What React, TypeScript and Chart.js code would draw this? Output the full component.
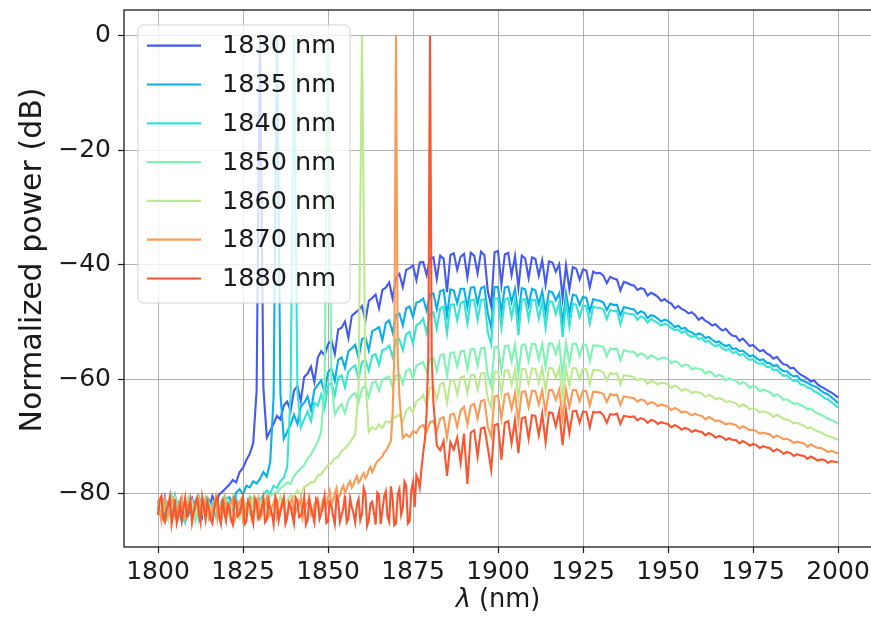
import React, { useEffect, useRef } from "react";
import { Chart, registerables } from "chart.js";

Chart.register(...registerables);

// Wavelength sampling grid (nm), 1 nm steps from 1800 to 2000
const wavelengthStart = 1800;
const wavelengthCount = 201;
const wavelengths: number[] = Array.from({ length: wavelengthCount }, (_, i) => wavelengthStart + i);

const seriesLabels = ["1830 nm", "1835 nm", "1840 nm", "1850 nm", "1860 nm", "1870 nm", "1880 nm"];
const seriesColors = ["#4458f2", "#0aaeea", "#36e4d4", "#7ef3b4", "#bce98f", "#fb9a55", "#fb5530"];

const xTicks = [1800, 1825, 1850, 1875, 1900, 1925, 1950, 1975, 2000];
const xTickLabels = ["1800", "1825", "1850", "1875", "1900", "1925", "1950", "1975", "2000"];
const yTicks = [-80, -60, -40, -20, 0];
const yTickLabels = ["\u221280", "\u221260", "\u221240", "\u221220", "0"];

// Normalized power (dB), one value per wavelength (1800..2000 nm)
const p1830 = [
  -81.2, -83.5, -80.6, -84.1, -82.3, -80.9, -83.8, -81.5, -84.6, -82.0,
  -80.8, -83.2, -81.9, -84.0, -81.0, -82.6, -80.4, -81.8, -80.1, -79.6,
  -79.0, -78.4, -77.6, -78.0, -76.2, -75.5, -74.1, -73.0, -71.2, -62.0,
  0, -61.5, -70.2, -69.0, -67.8, -66.4, -67.0, -64.6, -63.9, -65.5,
  -62.0, -61.2, -63.8, -59.6, -59.0, -57.8, -60.5, -56.2, -55.1, -55.8,
  -53.9, -53.2, -55.6, -51.3, -51.0, -49.9, -52.8, -48.9, -48.4, -47.9,
  -47.2, -49.8, -46.3, -45.8, -45.2, -47.6, -44.4, -44.0, -43.1, -45.9,
  -42.3, -41.6, -43.9, -40.9, -40.6, -40.1, -42.7, -39.6, -39.5, -41.8,
  -39.0, -38.7, -42.5, -38.4, -38.9, -44.8, -38.3, -38.0, -40.9, -38.6,
  -38.1, -42.2, -37.9, -38.4, -41.5, -37.7, -38.3, -44.6, -47.2, -37.8,
  -37.6, -43.5, -38.2, -37.9, -41.8, -38.5, -44.0, -38.4, -38.9, -42.3,
  -38.7, -39.0, -41.9, -39.2, -43.5, -39.4, -39.6, -41.2, -39.9, -45.8,
  -40.1, -44.3, -40.4, -40.7, -42.6, -40.8, -41.0, -43.9, -41.2, -41.5,
  -41.4, -41.9, -43.2, -42.1, -42.4, -42.6, -44.5, -43.0, -43.2, -43.5,
  -43.6, -44.4, -44.1, -44.3, -45.4, -44.9, -45.2, -45.6, -46.3, -46.0,
  -46.5, -46.8, -47.6, -47.2, -47.7, -48.0, -48.5, -48.3, -48.8, -49.6,
  -49.2, -49.8, -50.1, -50.6, -50.4, -51.0, -51.5, -51.2, -51.9, -52.4,
  -52.5, -53.3, -52.9, -53.5, -54.2, -54.0, -54.6, -55.1, -54.9, -55.5,
  -55.8, -56.4, -56.1, -56.8, -57.4, -57.5, -58.1, -58.0, -58.7, -59.2,
  -59.5, -59.9, -60.4, -60.2, -60.9, -61.3, -61.6, -62.0, -62.3, -62.7,
  -63.2,
];

const p1835 = [
  -82.8, -80.7, -84.3, -81.6, -83.1, -80.3, -82.9, -84.8, -81.3, -83.6,
  -81.7, -84.2, -80.5, -82.4, -83.7, -81.1, -82.2, -80.8, -83.0, -81.4,
  -81.0, -80.6, -81.9, -79.8, -79.2, -80.1, -78.6, -78.9, -77.8, -78.2,
  -77.4, -76.2, -77.0, -74.5, -63.0, 0, -62.5, -70.4, -69.2, -67.9,
  -66.2, -67.8, -64.8, -64.1, -63.0, -65.4, -61.8, -61.0, -60.2, -62.4,
  -58.8, -58.1, -60.3, -56.6, -56.2, -58.0, -55.1, -54.6, -54.0, -56.3,
  -53.0, -52.7, -55.0, -51.6, -51.3, -50.9, -53.2, -50.2, -49.7, -51.8,
  -48.8, -48.5, -50.6, -47.6, -47.3, -49.1, -46.6, -46.4, -45.9, -48.0,
  -45.2, -45.0, -47.8, -44.6, -44.4, -48.9, -44.3, -44.5, -46.7, -44.2,
  -44.2, -47.4, -44.0, -43.9, -46.8, -44.1, -43.8, -48.5, -51.0, -43.9,
  -43.9, -48.2, -44.0, -43.8, -46.5, -44.2, -49.0, -44.1, -44.3, -47.1,
  -44.2, -44.5, -46.9, -44.6, -48.3, -44.6, -44.8, -46.2, -45.0, -50.3,
  -45.0, -48.5, -45.2, -45.4, -47.0, -45.6, -45.8, -48.1, -46.0, -46.2,
  -46.3, -46.6, -47.9, -46.8, -47.0, -47.0, -48.8, -47.4, -47.5, -47.7,
  -47.8, -48.6, -48.1, -48.4, -49.3, -48.8, -49.0, -49.4, -49.9, -49.6,
  -49.8, -50.3, -50.9, -50.6, -51.2, -51.0, -51.6, -51.8, -52.3, -52.0,
  -52.2, -52.8, -52.6, -53.1, -53.5, -53.4, -53.9, -54.2, -54.0, -54.7,
  -54.6, -55.1, -55.0, -55.5, -56.0, -55.8, -56.3, -56.7, -56.5, -57.1,
  -57.2, -57.7, -57.5, -58.2, -58.6, -58.6, -59.2, -59.5, -59.4, -60.1,
  -60.3, -60.6, -61.0, -61.2, -61.5, -62.0, -62.4, -62.6, -63.1, -63.6,
  -64.2,
];

const p1840 = [
  -81.9, -84.4, -81.0, -82.7, -80.4, -83.9, -81.5, -82.6, -84.9, -80.8,
  -83.3, -81.2, -84.5, -82.1, -80.6, -83.4, -81.8, -84.0, -82.5, -80.9,
  -83.6, -81.4, -82.8, -80.7, -83.1, -81.6, -82.0, -80.5, -81.3, -80.8,
  -81.0, -80.2, -79.4, -80.0, -78.6, -79.0, -77.8, -77.2, -75.4, -62.5,
  0, -62.0, -68.4, -67.0, -65.6, -67.3, -64.1, -64.6, -62.6, -65.0,
  -61.2, -60.6, -62.8, -59.7, -59.3, -61.4, -58.6, -58.0, -57.6, -60.0,
  -57.0, -56.6, -58.5, -55.9, -55.6, -57.5, -54.9, -54.7, -54.1, -56.1,
  -53.2, -53.0, -54.9, -52.1, -51.7, -53.8, -50.6, -50.2, -49.4, -51.9,
  -48.6, -48.3, -51.2, -47.6, -47.3, -52.0, -47.0, -46.9, -49.7, -46.7,
  -46.4, -50.3, -46.2, -46.1, -49.6, -46.2, -46.0, -51.8, -53.9, -45.9,
  -45.9, -51.0, -46.1, -45.8, -49.2, -46.0, -52.3, -46.1, -46.0, -49.5,
  -46.1, -46.2, -49.4, -46.3, -51.0, -46.4, -46.5, -48.6, -46.6, -52.6,
  -46.7, -50.8, -46.8, -47.0, -49.2, -47.1, -47.2, -50.3, -47.3, -47.5,
  -47.5, -47.8, -49.5, -47.9, -48.1, -48.0, -50.4, -48.3, -48.5, -48.6,
  -48.7, -49.6, -49.0, -49.3, -50.1, -49.5, -49.8, -50.2, -50.6, -50.3,
  -50.5, -51.1, -51.4, -51.3, -51.9, -51.6, -52.3, -52.6, -52.4, -53.0,
  -52.8, -53.5, -53.3, -53.9, -54.2, -54.0, -54.6, -54.9, -54.7, -55.4,
  -55.2, -55.8, -55.6, -56.2, -56.6, -56.5, -57.1, -57.3, -57.2, -57.9,
  -57.8, -58.4, -58.3, -58.9, -59.4, -59.3, -59.9, -60.3, -60.2, -60.9,
  -61.0, -61.4, -61.6, -62.1, -62.4, -62.8, -63.3, -63.5, -64.0, -64.4,
  -65.0,
];

const p1850 = [
  -83.4, -81.1, -82.9, -84.6, -80.7, -82.2, -84.2, -81.3, -83.0, -80.5,
  -82.7, -84.8, -81.6, -83.2, -80.9, -82.0, -84.3, -81.5, -83.5, -82.1,
  -80.6, -83.8, -81.9, -82.5, -84.1, -80.8, -82.3, -83.6, -81.2, -82.4,
  -81.4, -80.9, -82.0, -80.3, -80.0, -79.8, -79.1, -78.6, -78.0, -78.3,
  -76.9, -76.2, -75.6, -75.0, -73.8, -73.2, -72.0, -70.9, -69.2, -61.0,
  0, -60.5, -66.2, -65.1, -64.3, -65.9, -63.6, -62.8, -62.4, -64.0,
  -61.6, -61.2, -63.1, -60.6, -60.4, -62.0, -60.0, -59.8, -59.5, -61.4,
  -59.4, -59.1, -60.8, -58.6, -58.2, -59.9, -57.6, -57.3, -57.0, -58.7,
  -56.5, -56.2, -58.6, -55.8, -55.6, -59.4, -55.4, -55.3, -57.8, -55.1,
  -55.0, -58.2, -54.8, -54.7, -57.6, -54.6, -54.5, -59.3, -61.2, -54.4,
  -54.3, -58.5, -54.2, -54.1, -56.9, -54.0, -59.1, -54.0, -53.9, -56.8,
  -53.8, -53.9, -56.5, -53.8, -57.8, -53.7, -53.8, -55.6, -53.7, -59.4,
  -53.7, -57.2, -53.8, -53.8, -55.9, -53.9, -54.0, -56.8, -54.1, -54.1,
  -54.2, -54.4, -56.0, -54.6, -54.7, -54.7, -56.7, -54.9, -55.1, -55.2,
  -55.2, -55.9, -55.5, -55.7, -56.4, -55.8, -56.1, -56.6, -56.3, -56.2,
  -56.5, -57.2, -56.8, -57.1, -57.8, -57.4, -57.6, -58.3, -58.0, -58.2,
  -58.3, -59.0, -58.6, -58.9, -59.6, -59.2, -59.5, -60.2, -59.8, -60.1,
  -60.2, -60.9, -60.5, -60.8, -61.5, -61.2, -61.4, -62.1, -61.8, -62.0,
  -62.3, -62.9, -62.6, -63.0, -63.6, -63.5, -63.9, -64.3, -64.2, -64.5,
  -64.8, -65.3, -65.1, -65.6, -66.0, -66.2, -66.5, -66.9, -67.1, -67.4,
  -67.8,
];

const p1860 = [
  -80.9, -83.3, -81.8, -84.4, -82.6, -80.6, -83.7, -81.0, -84.2, -82.8,
  -81.3, -83.9, -80.7, -82.9, -84.6, -81.7, -83.0, -80.4, -82.3, -84.0,
  -81.6, -83.4, -80.9, -82.7, -84.3, -81.1, -83.2, -82.0, -80.6, -83.8,
  -81.8, -82.9, -80.8, -83.5, -81.4, -82.4, -80.5, -82.1, -81.2, -80.3,
  -80.5, -79.4, -80.1, -78.8, -78.5, -78.0, -77.9, -76.8, -76.6, -75.7,
  -75.0, -74.6, -73.8, -73.6, -72.5, -72.1, -71.4, -70.5, -69.6, -61.5,
  0, -60.5, -69.2, -68.4, -68.8, -67.9, -68.5, -67.4, -67.6, -66.9,
  -66.5, -66.2, -67.4, -65.5, -64.9, -65.8, -63.8, -63.5, -62.7, -64.6,
  -61.5, -61.3, -63.5, -60.9, -60.6, -64.2, -60.3, -60.1, -62.6, -59.7,
  -59.5, -62.4, -59.3, -59.2, -61.8, -59.0, -58.9, -63.4, -65.0, -58.7,
  -58.6, -62.5, -58.5, -58.4, -61.0, -58.3, -63.2, -58.2, -58.2, -60.8,
  -58.1, -58.2, -60.6, -58.0, -61.9, -58.0, -58.1, -59.8, -58.0, -63.3,
  -58.0, -61.1, -58.1, -58.1, -60.0, -58.2, -58.3, -60.9, -58.4, -58.4,
  -58.5, -58.8, -60.2, -58.9, -59.1, -59.0, -60.9, -59.3, -59.4, -59.5,
  -59.6, -60.2, -59.9, -60.1, -60.8, -60.2, -60.5, -60.9, -60.6, -60.7,
  -60.9, -61.5, -61.1, -61.4, -62.0, -61.7, -61.9, -62.4, -62.2, -62.3,
  -62.5, -63.1, -62.7, -63.0, -63.5, -63.3, -63.5, -64.0, -63.8, -64.0,
  -64.2, -64.8, -64.4, -64.7, -65.2, -65.1, -65.3, -65.8, -65.6, -65.8,
  -66.0, -66.6, -66.2, -66.5, -67.0, -67.0, -67.3, -67.7, -67.6, -67.9,
  -68.1, -68.6, -68.4, -68.8, -69.1, -69.3, -69.6, -69.9, -70.1, -70.3,
  -70.6,
];

const p1870 = [
  -82.4, -84.7, -80.8, -83.6, -81.5, -84.0, -82.2, -80.6, -83.9, -81.7,
  -84.5, -82.0, -80.9, -83.3, -81.2, -84.4, -82.7, -80.5, -83.1, -81.9,
  -84.1, -82.3, -80.7, -83.7, -81.4, -84.6, -82.5, -80.8, -83.0, -81.6,
  -84.3, -82.1, -80.6, -83.5, -81.8, -84.2, -82.6, -80.9, -83.4, -81.3,
  -84.0, -82.4, -80.7, -83.2, -81.5, -83.8, -81.9, -80.8, -82.7, -81.2,
  -80.6, -81.8, -79.9, -80.7, -79.2, -79.8, -78.3, -78.9, -77.5, -78.1,
  -76.9, -77.3, -75.8, -76.2, -74.9, -74.1, -73.5, -72.6, -71.4, -66.0,
  0, -63.0, -70.3, -69.6, -70.1, -69.0, -69.4, -68.3, -68.0, -69.2,
  -67.5, -67.3, -69.1, -66.9, -66.6, -70.2, -66.2, -66.0, -68.3, -65.5,
  -64.8, -67.9, -64.6, -64.3, -66.9, -63.8, -63.6, -68.2, -70.1, -63.0,
  -62.8, -66.9, -62.7, -62.5, -65.2, -62.4, -67.3, -62.2, -62.1, -64.9,
  -62.0, -62.1, -64.4, -61.9, -65.8, -61.9, -61.9, -63.6, -61.8, -66.9,
  -61.8, -64.9, -61.9, -61.9, -63.8, -62.0, -62.1, -64.6, -62.2, -62.2,
  -62.3, -62.6, -64.0, -62.6, -62.8, -62.7, -64.5, -63.0, -63.1, -63.2,
  -63.3, -63.9, -63.5, -63.7, -64.4, -64.0, -64.2, -64.7, -64.4, -64.6,
  -64.8, -65.4, -65.0, -65.3, -65.8, -65.6, -65.9, -66.3, -66.0, -66.3,
  -66.4, -67.0, -66.6, -66.9, -67.3, -67.2, -67.5, -67.9, -67.7, -67.8,
  -68.0, -68.6, -68.2, -68.5, -68.9, -68.8, -69.1, -69.5, -69.3, -69.5,
  -69.6, -70.2, -69.8, -70.1, -70.5, -70.4, -70.7, -71.1, -70.9, -71.1,
  -71.2, -71.8, -71.4, -71.7, -72.0, -72.0, -72.3, -72.7, -72.5, -72.7,
  -73.0,
];

const p1880 = [
  -83.7, -80.4, -84.9, -82.1, -85.3, -81.0, -83.8, -84.6, -80.7, -82.9,
  -85.0, -81.6, -83.3, -80.5, -84.4, -82.5, -85.2, -81.2, -83.9, -80.9,
  -84.7, -82.3, -85.4, -81.4, -83.5, -80.6, -84.8, -82.0, -85.1, -81.5,
  -83.6, -80.8, -84.5, -82.6, -85.3, -81.3, -83.2, -80.7, -84.2, -82.2,
  -85.2, -81.1, -83.9, -80.6, -84.6, -82.4, -85.0, -81.5, -83.4, -80.4,
  -84.8, -82.0, -85.3, -81.2, -83.7, -80.3, -84.4, -82.3, -85.0, -80.9,
  -83.5, -79.9, -84.6, -81.4, -85.4, -80.2, -83.0, -79.6, -84.9, -80.8,
  -85.2, -79.2, -82.4, -78.6, -84.8, -78.0, -76.8, -78.9, -72.8, -66.0,
  0, -64.0, -71.6, -72.4, -70.8, -76.9, -71.0, -72.3, -70.2, -74.6,
  -69.5, -78.3, -69.3, -68.9, -73.5, -68.6, -68.4, -72.0, -75.8, -68.0,
  -67.8, -74.1, -67.6, -67.3, -71.2, -67.1, -72.9, -66.8, -66.6, -70.4,
  -66.3, -66.4, -69.8, -66.0, -71.0, -65.8, -65.9, -68.2, -65.6, -71.5,
  -65.5, -69.4, -65.6, -65.5, -67.6, -65.6, -65.7, -68.4, -65.7, -65.8,
  -65.7, -66.3, -67.6, -66.1, -66.2, -66.0, -67.8, -66.4, -66.5, -66.6,
  -66.5, -67.2, -66.8, -67.0, -67.6, -67.1, -67.3, -67.8, -67.5, -67.7,
  -67.8, -68.4, -68.0, -68.3, -68.8, -68.5, -68.7, -69.2, -68.9, -69.1,
  -69.2, -69.8, -69.4, -69.7, -70.2, -69.9, -70.1, -70.6, -70.3, -70.6,
  -70.6, -71.2, -70.8, -71.1, -71.6, -71.3, -71.5, -72.0, -71.7, -71.9,
  -72.0, -72.6, -72.2, -72.5, -73.0, -72.7, -72.9, -73.4, -73.1, -73.3,
  -73.4, -73.9, -73.5, -73.8, -74.2, -74.0, -74.1, -74.6, -74.3, -74.4,
  -74.5,
];

// Extra half-nanometre samples (x + 0.5 nm) for the two lowest traces
const p1870Half = [
  -83.0, -81.4, -84.3, -82.0, -80.9, -83.7, -81.6, -84.5, -82.3, -80.8,
  -83.5, -81.2, -84.1, -82.6, -80.7, -83.9, -81.8, -84.4, -82.1, -80.6,
  -83.3, -81.5, -84.6, -82.4, -80.9, -83.6, -81.3, -84.2, -82.8, -80.7,
  -83.8, -81.7, -84.0, -82.2, -80.5, -83.4, -81.1, -84.7, -82.5, -80.8,
  -83.1, -81.9, -84.3, -82.0, -80.6, -83.5, -81.4, -83.0, -81.0, -82.2,
  -79.5, -81.2, -79.0, -80.3, -78.6, -79.1, -77.8, -78.4, -76.9, -77.6,
  -76.4, -76.8, -75.3, -75.6, -74.3, -73.7, -72.8, -72.0, -70.8, -56.0,
  -56.0,
];

const p1880Half = [
  -81.0, -84.2, -82.6, -80.5, -83.4, -85.1, -81.7, -82.5, -84.0, -81.2,
  -83.1, -80.7, -85.0, -82.2, -81.4, -84.5, -82.8, -80.6, -85.2, -83.3,
  -81.8, -84.6, -80.9, -83.9, -82.1, -85.3, -81.3, -83.7, -80.8, -84.3,
  -82.4, -85.0, -81.1, -83.5, -80.6, -84.7, -82.0, -85.2, -81.6, -83.8,
  -80.7, -84.1, -82.7, -85.4, -81.0, -83.6, -80.9, -84.4, -82.3, -85.1,
  -81.5, -83.9, -80.5, -84.9, -82.6, -85.0, -80.8, -83.4, -81.9, -84.6,
  -79.0, -85.6, -81.7, -83.2, -79.8, -85.3, -80.5, -84.0, -78.7, -85.5,
  -80.1, -83.6, -77.9, -85.2, -79.4, -82.3, -77.5, -75.6, -70.5, -56.0,
  -56.0,
];

const seriesValues = [p1830, p1835, p1840, p1850, p1860, p1870, p1880];
const seriesHalfValues: (number[] | null)[] = [null, null, null, null, null, p1870Half, p1880Half];

const FONT = "'DejaVu Sans', 'Liberation Sans', sans-serif";
const TEXT_COLOR = "#1a1a1a";

function buildPoints(vals: number[], half: number[] | null) {
  const pts: { x: number; y: number }[] = [];
  wavelengths.forEach((x, j) => {
    pts.push({ x, y: vals[j] });
    if (half && j < half.length) pts.push({ x: x + 0.5, y: half[j] });
  });
  return pts;
}

const decorPlugin = {
  id: "decor",
  afterDatasetsDraw(chart: any) {
    const { ctx, chartArea: a } = chart;
    ctx.save();
    ctx.strokeStyle = TEXT_COLOR;
    ctx.lineWidth = 1.3;
    ctx.strokeRect(a.left, a.top, a.right - a.left, a.bottom - a.top);
    ctx.restore();
  },
  afterDraw(chart: any) {
    const { ctx } = chart;
    ctx.save();
    // Legend box
    const bx = 138, by = 25, bw = 212, bh = 278, r = 6;
    ctx.beginPath();
    ctx.moveTo(bx + r, by);
    ctx.lineTo(bx + bw - r, by);
    ctx.quadraticCurveTo(bx + bw, by, bx + bw, by + r);
    ctx.lineTo(bx + bw, by + bh - r);
    ctx.quadraticCurveTo(bx + bw, by + bh, bx + bw - r, by + bh);
    ctx.lineTo(bx + r, by + bh);
    ctx.quadraticCurveTo(bx, by + bh, bx, by + bh - r);
    ctx.lineTo(bx, by + r);
    ctx.quadraticCurveTo(bx, by, bx + r, by);
    ctx.closePath();
    ctx.fillStyle = "rgba(255,255,255,0.8)";
    ctx.fill();
    ctx.strokeStyle = "rgba(204,204,204,0.9)";
    ctx.lineWidth = 1;
    ctx.stroke();

    const datasets = chart.data.datasets;
    ctx.font = `25.5px ${FONT}`;
    ctx.textBaseline = "middle";
    ctx.textAlign = "left";
    datasets.forEach((ds: any, i: number) => {
      const y = 45.7 + i * 38.8;
      ctx.strokeStyle = ds.borderColor;
      ctx.lineWidth = 2.2;
      ctx.beginPath();
      ctx.moveTo(147, y);
      ctx.lineTo(201, y);
      ctx.stroke();
      ctx.fillStyle = TEXT_COLOR;
      ctx.fillText(ds.label, 222, y + 1);
    });

    // X axis title: italic lambda + " (nm)"
    const lam = "\u03bb";
    const rest = " (nm)";
    ctx.font = `italic 25.7px ${FONT}`;
    const w1 = ctx.measureText(lam).width;
    ctx.font = `25.7px ${FONT}`;
    const w2 = ctx.measureText(rest).width;
    const cx = 498;
    const x0 = cx - (w1 + w2) / 2;
    ctx.fillStyle = TEXT_COLOR;
    ctx.font = `italic 25.7px ${FONT}`;
    ctx.fillText(lam, x0, 600);
    ctx.font = `25.7px ${FONT}`;
    ctx.fillText(rest, x0 + w1, 600);

    // Y axis title
    ctx.translate(33, 260);
    ctx.rotate(-Math.PI / 2);
    ctx.textAlign = "center";
    ctx.font = `30px ${FONT}`;
    ctx.fillText("Normalized power (dB)", 0, 0);
    ctx.restore();
  },
};

export default function App() {
  const canvasRef = useRef<HTMLCanvasElement | null>(null);

  useEffect(() => {
    const canvas = canvasRef.current;
    if (!canvas) return;
    const n = seriesValues.length;
    const chart = new Chart(canvas, {
      type: "line",
      data: {
        datasets: seriesValues.map((vals, i) => ({
          label: seriesLabels[i],
          data: buildPoints(vals, seriesHalfValues[i]),
          borderColor: seriesColors[i],
          backgroundColor: seriesColors[i],
          borderWidth: 2.1,
          pointRadius: 0,
          tension: 0,
          fill: false,
          order: n - i,
        })),
      },
      options: {
        animation: false,
        responsive: false,
        devicePixelRatio: 1,
        layout: { padding: { left: 0, top: 10, right: 8, bottom: 0 } },
        plugins: {
          legend: { display: false },
          tooltip: { enabled: false },
        },
        scales: {
          x: {
            type: "linear",
            min: 1790,
            max: 2010,
            afterBuildTicks: (axis: any) => {
              axis.ticks = xTicks.map((v) => ({ value: v }));
            },
            afterFit: (scale: any) => {
              scale.height = 74;
              scale.paddingLeft = 0;
              scale.paddingRight = 0;
            },
            ticks: {
              callback: (_v: any, idx: number) => xTickLabels[idx],
              font: { family: FONT, size: 25 },
              color: TEXT_COLOR,
              padding: 4,
              maxRotation: 0,
              autoSkip: false,
            },
            grid: {
              color: "#b0b0b0",
              lineWidth: 1,
              drawTicks: true,
              tickLength: 6,
              tickColor: TEXT_COLOR,
              tickWidth: 1.2,
            },
            border: { display: false },
          },
          y: {
            type: "linear",
            min: -89.3,
            max: 4.5,
            afterBuildTicks: (axis: any) => {
              axis.ticks = yTicks.map((v) => ({ value: v }));
            },
            afterFit: (scale: any) => {
              scale.width = 124;
              scale.paddingTop = 0;
              scale.paddingBottom = 0;
            },
            ticks: {
              callback: (_v: any, idx: number) => yTickLabels[idx],
              font: { family: FONT, size: 25 },
              color: TEXT_COLOR,
              padding: 7,
              autoSkip: false,
            },
            grid: {
              color: "#b0b0b0",
              lineWidth: 1,
              drawTicks: true,
              tickLength: 6,
              tickColor: TEXT_COLOR,
              tickWidth: 1.2,
            },
            border: { display: false },
          },
        },
      },
      plugins: [decorPlugin],
    });
    return () => chart.destroy();
  }, []);

  return (
    <div
      style={{
        position: "fixed",
        left: 0,
        top: 0,
        width: 871,
        height: 621,
        overflow: "hidden",
        background: "#fff",
      }}
    >
      <canvas ref={canvasRef} width={880} height={621} style={{ width: 880, height: 621, display: "block" }} />
    </div>
  );
}
